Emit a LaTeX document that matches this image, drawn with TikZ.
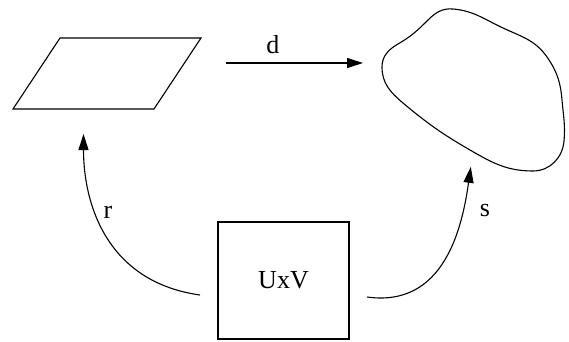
\documentclass[tikz,border=0pt]{standalone}
\usepackage{fontspec}
\setmainfont{Liberation Serif}
\usetikzlibrary{positioning, calc, arrows.meta}

\begin{document}
\begin{tikzpicture}[x=1pt, y=1pt, font=\fontsize{26}{30}\selectfont, >={Triangle[length=16pt, width=10pt]}, line width=1.1pt,
    arr/.style={->, line width=1.1pt},
    lbl/.style={inner sep=0pt}]
        \useasboundingbox (0,0) rectangle (569,341);

        % Nodes
        \coordinate (para-sw) at (13,232);
        \coordinate (para-se) at (154,232);
        \coordinate (para-ne) at (201,303);
        \coordinate (para-nw) at (60,303);
        \draw (para-sw) -- (para-se) -- (para-ne) -- (para-nw) -- cycle;
        \coordinate (para-s) at ($(para-sw)!0.5!(para-se)$);
        \coordinate (para-e) at ($(para-se)!0.5!(para-ne)$);
        \node[draw, rectangle, minimum width=131pt, minimum height=117pt, inner sep=0pt, outer sep=0pt] (box) at (283.5,60.5) {UxV};

        % Blob
        \draw (453,332) to[out=-5,in=155] (503,313) to[out=-25,in=125] (547,284) to[out=-55,in=95] (562,241)
            to[out=-85,in=85] (564,200) to[out=-95,in=0] (533,170) to[out=180,in=-30] (470,191)
            to[out=150,in=-40] (403,238) to[out=140,in=-90] (382,274) to[out=90,in=210] (398,297)
            to[out=30,in=225] (428,321) to[out=45,in=175] cycle;
        \coordinate (blob-w) at (382,278);
        \coordinate (blob-s) at (473,190);

        % Edges
        \draw[arr, shorten >=19pt] ([xshift=48.5pt, yshift=10.5pt]para-e) -- (blob-w) node[lbl, pos=0.3, above=9pt] {d};
        \draw[arr, shorten >=25pt] ([xshift=-18pt, yshift=-14.5pt]box.west) to[out=172, in=-90, looseness=1.1] (para-s);
        \draw[arr, shorten >=16pt] ([xshift=18pt, yshift=-16.5pt]box.east) to[out=-8, in=-98, looseness=1.1] (blob-s);

        % Labels
        \node[lbl] (r) at (108,129) {r};
        \node[lbl] (s) at (485,131) {s};
    \end{tikzpicture}
\end{document}
